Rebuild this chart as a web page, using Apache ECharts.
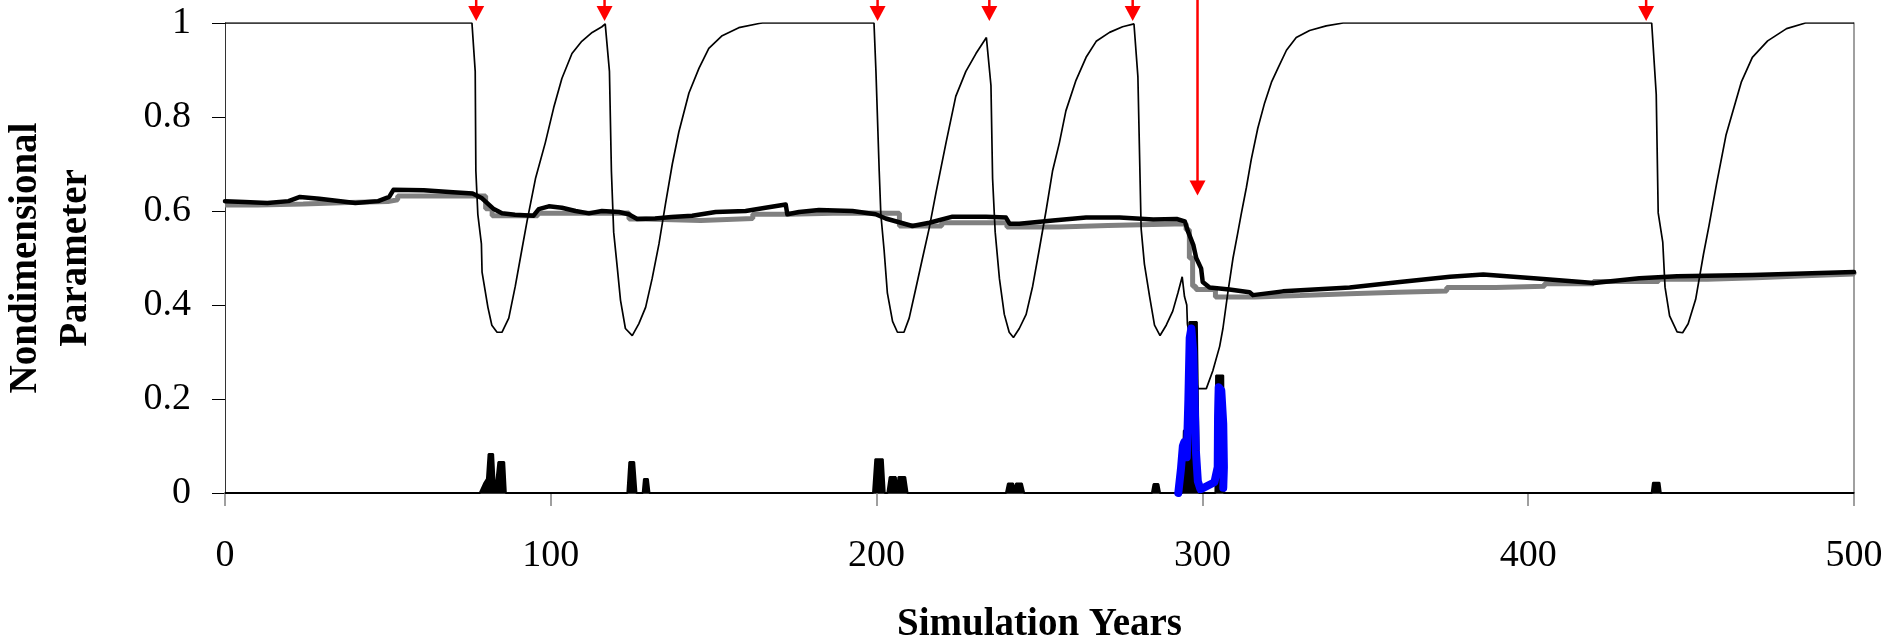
<!DOCTYPE html>
<html>
<head>
<meta charset="utf-8">
<script src="https://cdn.jsdelivr.net/npm/echarts@6.0.0/dist/echarts.min.js"></script>
<style>
  html, body { margin: 0; padding: 0; background: #fff; }
  #chart { width: 1891px; height: 642px; }
</style>
</head>
<body>
<div id="chart"></div>
<script>
// axis ticks
const xTicks = [0, 100, 200, 300, 400, 500];
const yTicks = [0, 0.2, 0.4, 0.6, 0.8, 1];

// thin line: drops at each event, then recovers to 1
const thinLine = [
  [0, 1], [75.8, 1], [76.8, 0.897], [77.0, 0.685], [77.6, 0.593], [78.7, 0.53], [78.9, 0.47],
  [80.7, 0.395], [81.9, 0.357], [83.5, 0.342], [85.0, 0.342], [87.1, 0.372], [89.1, 0.44],
  [91.1, 0.517], [92.7, 0.578], [95.3, 0.669], [98.3, 0.745], [100.9, 0.82], [103.4, 0.882],
  [106.5, 0.935], [109.5, 0.961], [112.7, 0.98], [115.7, 0.992], [116.7, 0.998],
  [118.0, 0.897], [118.6, 0.685], [119.3, 0.555], [120.4, 0.48], [121.4, 0.41], [122.9, 0.35],
  [125.0, 0.335], [127.0, 0.36], [129.1, 0.395], [131.1, 0.456], [133.2, 0.53], [135.2, 0.615],
  [137.3, 0.70], [139.3, 0.768], [142.4, 0.851], [145.5, 0.904], [148.5, 0.946], [152.6, 0.973],
  [157.7, 0.99], [163.9, 0.999], [165, 1], [199.2, 1],
  [199.8, 0.897], [200.8, 0.685], [201.3, 0.593], [202.3, 0.517], [203.3, 0.426], [204.9, 0.365],
  [206.4, 0.342], [208.4, 0.342], [210.0, 0.372], [212.0, 0.434], [214.1, 0.50], [216.1, 0.562],
  [218.2, 0.638], [221.3, 0.745], [224.3, 0.844], [227.4, 0.897], [230.5, 0.935], [233.7, 0.969],
  [235.1, 0.867], [235.6, 0.669], [236.4, 0.555], [237.7, 0.456], [239.2, 0.38], [240.7, 0.342],
  [242.0, 0.331], [243.8, 0.35], [245.9, 0.38], [247.9, 0.44], [249.9, 0.517], [252.0, 0.60],
  [254.0, 0.685], [256.1, 0.745], [258.1, 0.813], [261.2, 0.878], [264.3, 0.927], [267.4, 0.961],
  [271.5, 0.98], [275.5, 0.992], [279.0, 0.998],
  [280.2, 0.886], [281.2, 0.562], [282.2, 0.487], [283.8, 0.418], [285.3, 0.357], [287.0, 0.335],
  [288.9, 0.357], [290.9, 0.387], [292.5, 0.426], [293.8, 0.46],
  [294.5, 0.418], [295.2, 0.40], [295.4, 0.36], [298.6, 0.222], [301.2, 0.222], [303.2, 0.26],
  [305.3, 0.312], [306.3, 0.35], [307.8, 0.426], [309.4, 0.50], [310.9, 0.555], [311.9, 0.593],
  [313.5, 0.65], [315.0, 0.71], [317.0, 0.776], [319.1, 0.83], [321.2, 0.874], [323.2, 0.904],
  [325.8, 0.942], [328.8, 0.969], [332.9, 0.984], [338.0, 0.994], [343.2, 1], [437.9, 1],
  [439.3, 0.848], [439.9, 0.596], [441.3, 0.534], [442.0, 0.438], [443.4, 0.377], [445.7, 0.343],
  [447.4, 0.341], [449.1, 0.36], [451.4, 0.412], [453.8, 0.508], [455.5, 0.569], [457.8, 0.657],
  [460.7, 0.761], [463.6, 0.831], [465.4, 0.874], [468.8, 0.927], [473.5, 0.962], [479.3, 0.988],
  [485.1, 1], [500, 1]
];

// thick black line
const blackLine = [
  [0, 0.621], [6, 0.619], [13, 0.617], [19.5, 0.621], [23, 0.630], [29, 0.626], [40, 0.617],
  [47, 0.621], [50.4, 0.630], [51.7, 0.645], [61, 0.644], [70, 0.640], [76, 0.637], [78.9, 0.627],
  [80.9, 0.614], [82.5, 0.604], [85, 0.595], [89, 0.592], [94.7, 0.590], [96.3, 0.604],
  [99.4, 0.610], [103.4, 0.607], [107.6, 0.600], [111.7, 0.595], [115.7, 0.600], [120.9, 0.598],
  [123.9, 0.593], [126.5, 0.583], [132, 0.584], [137, 0.587], [143.4, 0.590], [150.6, 0.598],
  [159.8, 0.600], [165.9, 0.607], [172.1, 0.614], [172.6, 0.593], [176.2, 0.598], [182.3, 0.602],
  [192.6, 0.600], [199.7, 0.593], [202.8, 0.584], [206.9, 0.576], [211, 0.568], [216.2, 0.575],
  [223.3, 0.588], [233.6, 0.588], [239.7, 0.586], [240.8, 0.573], [243.8, 0.573], [254.1, 0.580],
  [264.3, 0.586], [274.6, 0.586], [284.9, 0.582], [292.1, 0.583], [294.6, 0.578], [295.6, 0.556],
  [297.2, 0.528], [298.1, 0.50], [299.6, 0.478], [300.1, 0.449], [302.2, 0.437], [308.3, 0.433],
  [314.5, 0.427], [315.5, 0.421], [324.7, 0.429], [345.2, 0.437], [360.6, 0.449], [376, 0.460],
  [386.2, 0.465], [401.7, 0.457], [420.2, 0.447], [434.1, 0.457], [445.7, 0.461], [468.8, 0.464],
  [500, 0.470]
];

// thick gray stepped line
const grayLine = [
  [0, 0.613], [10, 0.615], [24, 0.618], [38, 0.620], [50, 0.624], [53, 0.632], [79, 0.632],
  [80, 0.605], [82, 0.590], [96, 0.595], [111, 0.596], [124, 0.583], [129, 0.580], [146, 0.584],
  [162, 0.593], [173, 0.596], [190, 0.595], [207, 0.568], [220, 0.575], [240, 0.566], [256, 0.569],
  [271, 0.573], [295, 0.560], [296, 0.50], [297, 0.44], [298, 0.433], [304, 0.417], [316, 0.420],
  [330, 0.424], [345, 0.427], [360, 0.430], [375, 0.437], [390, 0.440], [405, 0.445], [420, 0.450],
  [440, 0.455], [455, 0.458], [470, 0.462], [485, 0.466], [500, 0.470]
];

// black spikes near zero
const spikes = [
  [0, 0], [78.2, 0], [79.5, 0.02], [80.4, 0.03], [80.9, 0.083], [82.3, 0.083], [82.9, 0],
  [83.5, 0], [83.9, 0.066], [85.7, 0.066], [86.2, 0],
  [121, 0], [121.4, 0.003], [121.8, 0], [123.5, 0], [124.1, 0.066], [125.6, 0.066], [126.3, 0],
  [128.2, 0], [128.6, 0.03], [129.8, 0.03], [130.3, 0],
  [198.9, 0], [199.6, 0.072], [201.9, 0.072], [202.5, 0], [203.3, 0], [204.0, 0.034],
  [205.9, 0.034], [206.3, 0.005], [206.7, 0.034], [208.8, 0.034], [209.5, 0],
  [239.7, 0], [240.3, 0.02], [241.9, 0.02], [242.3, 0.008], [242.8, 0.02], [244.6, 0.02], [245.3, 0],
  [284.5, 0], [285.0, 0.019], [286.5, 0.019], [287.0, 0],
  [293.8, 0], [294.3, 0.133], [295.8, 0.133], [296.0, 0.364], [298.3, 0.364], [299.0, 0],
  [304.0, 0], [304.2, 0.25], [306.4, 0.25], [306.6, 0],
  [437.9, 0], [438.3, 0.022], [440.3, 0.022], [440.7, 0], [500, 0]
];

// blue line around year 300
const blueLine = [
  [292.6, 0.0], [293.4, 0.05], [294.0, 0.10], [294.4, 0.108], [295.2, 0.076], [295.7, 0.2],
  [296.1, 0.33], [296.6, 0.35], [297.2, 0.3], [297.6, 0.2], [298.0, 0.09], [298.6, 0.025],
  [299.4, 0.008], [300.1, 0.01], [303.7, 0.023], [304.7, 0.055], [304.8, 0.161], [305.0, 0.225],
  [305.8, 0.218], [306.4, 0.147], [306.6, 0.055], [306.4, 0.011]
];

// red arrows: year, tip value
const arrowYears = [77.1, 116.5, 200.3, 234.6, 278.6, 298.5, 436.2];
const arrowTips = [1.004, 1.004, 1.004, 1.004, 1.004, 0.633, 1.004];
const arrowTop = 1.05;

const serif = 'Liberation Serif, Times New Roman, serif';
const chart = echarts.init(document.getElementById('chart'), null, { renderer: 'canvas' });

chart.setOption({
  animation: false,
  backgroundColor: '#FFFFFF',
  grid: { left: 225, right: 37, top: 23, bottom: 149, containLabel: false, outerBoundsMode: 'none' },
  xAxis: {
    type: 'value',
    min: xTicks[0],
    max: xTicks[xTicks.length - 1],
    interval: 100,
    name: 'Simulation Years',
    nameLocation: 'middle',
    nameGap: 112,
    nameTextStyle: { fontFamily: serif, fontWeight: 'bold', fontSize: 39, color: '#000' },
    axisLine: { onZero: false, lineStyle: { color: '#000', width: 1.5 } },
    axisTick: { length: 13, lineStyle: { color: '#808080', width: 1.5 } },
    axisLabel: { margin: 44, fontFamily: serif, fontSize: 38, color: '#000' },
    splitLine: { show: false }
  },
  yAxis: [
    {
      type: 'value',
      min: yTicks[0],
      max: yTicks[yTicks.length - 1],
      interval: 0.2,
      name: 'Nondimensional\nParameter',
      nameLocation: 'middle',
      nameRotate: 90,
      nameGap: 124,
      nameTextStyle: { fontFamily: serif, fontWeight: 'bold', fontSize: 39, lineHeight: 50, color: '#000' },
      axisLine: { show: true, lineStyle: { color: '#333', width: 1 } },
      axisTick: { show: true, length: 13, lineStyle: { color: '#000', width: 1 } },
      axisLabel: { margin: 34, fontFamily: serif, fontSize: 38, color: '#000' },
      splitLine: { show: false }
    },
    {
      type: 'value',
      min: 0,
      max: 1,
      position: 'right',
      axisLine: { show: true, lineStyle: { color: '#808080', width: 1.5 } },
      axisTick: { show: false },
      axisLabel: { show: false },
      splitLine: { show: false }
    }
  ],
  series: [
    {
      type: 'line',
      data: grayLine,
      step: 'end',
      symbol: 'none',
      lineStyle: { color: '#808080', width: 5 }
    },
    {
      type: 'line',
      data: blackLine,
      symbol: 'none',
      lineStyle: { color: '#000', width: 4.5, join: 'round', cap: 'round' }
    },
    {
      type: 'line',
      data: thinLine,
      symbol: 'none',
      lineStyle: { color: '#000', width: 1.7 }
    },
    {
      type: 'line',
      data: spikes,
      symbol: 'none',
      lineStyle: { color: '#000', width: 2 },
      areaStyle: { color: '#000', opacity: 1 }
    },
    {
      type: 'line',
      data: blueLine,
      symbol: 'none',
      lineStyle: { color: '#0000ff', width: 8, join: 'round', cap: 'round' }
    },
    {
      type: 'custom',
      clip: false,
      data: arrowYears.map((x, i) => [x, arrowTips[i], arrowTop]),
      renderItem(params, api) {
        const start = api.coord([api.value(0), api.value(2)]);
        const tip = api.coord([api.value(0), api.value(1)]);
        return {
          type: 'group',
          children: [
            {
              type: 'line',
              shape: { x1: start[0], y1: start[1], x2: tip[0], y2: tip[1] - 12 },
              style: { stroke: '#ff0000', lineWidth: 2.5 }
            },
            {
              type: 'polygon',
              shape: { points: [[tip[0] - 8, tip[1] - 15], [tip[0] + 8, tip[1] - 15], [tip[0], tip[1]]] },
              style: { fill: '#ff0000' }
            }
          ]
        };
      }
    }
  ]
});
</script>
</body>
</html>
